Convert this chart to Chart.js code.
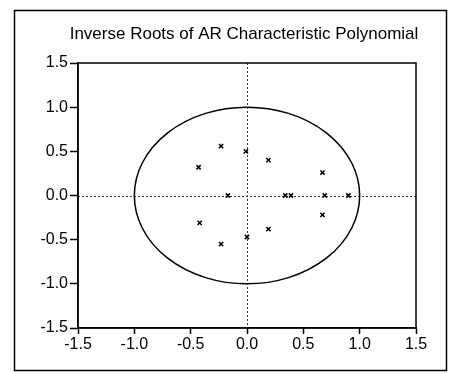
<!DOCTYPE html>
<html><head><meta charset="utf-8">
<script src="https://cdn.jsdelivr.net/npm/chart.js@4"></script>
<style>html,body{margin:0;padding:0;background:#fff}#wrap{width:451px;height:373px}</style>
</head><body><div id="wrap"><canvas id="c" width="451" height="373"></canvas></div>
<script>
const titleText = "Inverse Roots of AR Characteristic Polynomial";
const rootsRe = [-0.23, -0.01, 0.19, -0.43, 0.67, -0.17, 0.34, 0.39, 0.69, 0.90, -0.42, 0.67, 0.19, -0.23, 0.00];
const rootsIm = [0.56, 0.50, 0.40, 0.32, 0.26, 0.00, 0.00, 0.00, 0.00, 0.00, -0.31, -0.22, -0.38, -0.55, -0.47];
const tickValues = [-1.5, -1.0, -0.5, 0.0, 0.5, 1.0, 1.5];
const unitRadius = 1;

const points = rootsRe.map((x, i) => ({x: x, y: rootsIm[i]}));
const FONT = "'Liberation Sans', Arial, sans-serif";

const decor = {
  id: 'decor',
  beforeDatasetsDraw(chart) {
    const {ctx, chartArea: a, scales: {x, y}} = chart;
    ctx.save();
    const cx = x.getPixelForValue(0), cy = y.getPixelForValue(0);
    ctx.strokeStyle = '#333';
    ctx.lineWidth = 1;
    ctx.setLineDash([2, 2]);
    ctx.beginPath();
    ctx.moveTo(Math.round(cx) + 0.5, a.top);
    ctx.lineTo(Math.round(cx) + 0.5, a.bottom);
    ctx.moveTo(a.left, Math.round(cy) + 0.5);
    ctx.lineTo(a.right, Math.round(cy) + 0.5);
    ctx.stroke();
    ctx.setLineDash([]);
    const rx = Math.abs(x.getPixelForValue(unitRadius) - cx);
    const ry = Math.abs(y.getPixelForValue(unitRadius) - cy);
    ctx.beginPath();
    ctx.ellipse(cx, cy, rx, ry, 0, 0, Math.PI * 2);
    ctx.strokeStyle = '#000';
    ctx.lineWidth = 1.5;
    ctx.stroke();
    ctx.strokeRect(a.left, a.top, a.right - a.left, a.bottom - a.top);
    ctx.restore();
  },
  afterDraw(chart) {
    const ctx = chart.ctx;
    ctx.save();
    ctx.strokeStyle = '#000';
    ctx.lineWidth = 1.5;
    ctx.strokeRect(14.5, 10.5, 432, 360);
    ctx.fillStyle = '#000';
    ctx.font = "17px " + FONT;
    ctx.textAlign = 'center';
    ctx.textBaseline = 'middle';
    ctx.fillText(titleText, 244, 34);
    ctx.restore();
  }
};

const gridCfg = {
  color: 'rgba(0,0,0,0)',
  lineWidth: 1,
  tickColor: '#000',
  tickWidth: 1.5,
  drawTicks: true
};

new Chart(document.getElementById('c'), {
  type: 'scatter',
  data: {
    datasets: [{
      data: points,
      pointStyle: 'crossRot',
      pointRadius: 3,
      pointBorderColor: '#000',
      pointBorderWidth: 1.5,
      showLine: false
    }]
  },
  options: {
    responsive: false,
    animation: false,
    devicePixelRatio: 1,
    layout: {padding: {left: 0, right: 35, top: 63, bottom: 0}},
    plugins: {
      legend: {display: false},
      tooltip: {enabled: false},
      title: {display: false}
    },
    scales: {
      x: {
        type: 'linear', min: -1.5, max: 1.5,
        afterBuildTicks: s => { s.ticks = tickValues.map(v => ({value: v})); },
        afterFit: s => { s.height = 45; },
        grid: Object.assign({}, gridCfg, {tickLength: 6}),
        border: {display: true, color: '#000', width: 1.5},
        ticks: {
          color: '#000', padding: 1,
          font: {family: FONT, size: 16},
          callback: v => Number(v).toFixed(1)
        }
      },
      y: {
        type: 'linear', min: -1.5, max: 1.5,
        afterBuildTicks: s => { s.ticks = tickValues.map(v => ({value: v})); },
        afterFit: s => { s.width = 78; },
        grid: Object.assign({}, gridCfg, {tickLength: 8}),
        border: {display: true, color: '#000', width: 1.5},
        ticks: {
          color: '#000', padding: 2,
          font: {family: FONT, size: 16},
          callback: v => Number(v).toFixed(1)
        }
      }
    }
  },
  plugins: [decor]
});
</script>
</body></html>
